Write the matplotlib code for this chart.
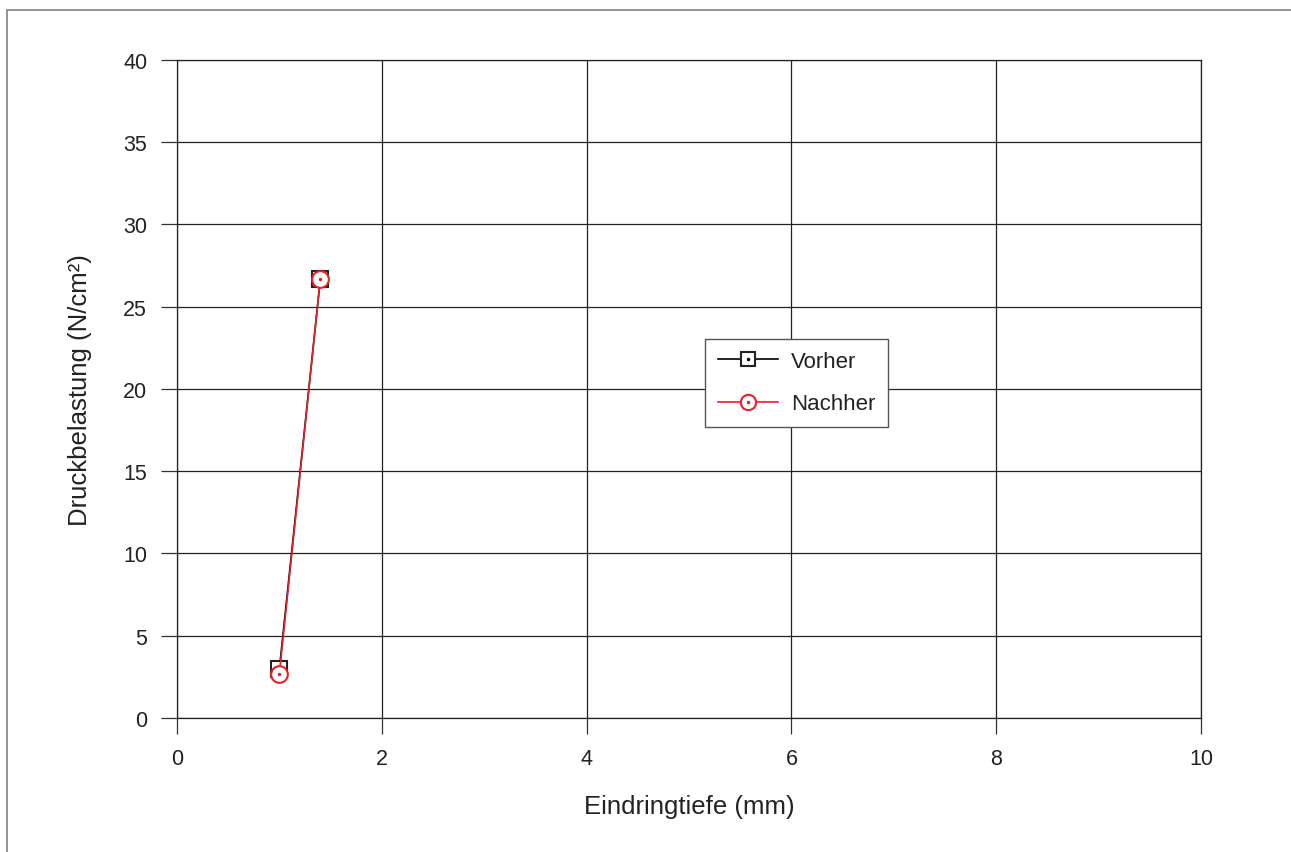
import matplotlib
matplotlib.use('Agg')
import matplotlib.pyplot as plt
from matplotlib.lines import Line2D
from matplotlib.patches import Rectangle

plt.rcParams['font.family'] = ['Liberation Sans', 'DejaVu Sans']

# Messwerte
x_vorher = [1.0, 1.4]
y_vorher = [3.0, 26.7]
x_nachher = [1.0, 1.4]
y_nachher = [2.7, 26.7]

xticks = [0, 2, 4, 6, 8, 10]
yticks = [0, 5, 10, 15, 20, 25, 30, 35, 40]

fig = plt.figure(figsize=(12.91, 8.53), dpi=100)
ax = fig.add_axes([0.1371, 0.1571, 0.7932, 0.7714])

# outer frame of the picture
fig.patches.append(Rectangle((7 / 1291, -0.1), 1.2, 1 - 11 / 853 + 0.1,
                             transform=fig.transFigure, fill=False,
                             edgecolor='#808080', linewidth=1.2))

ax.plot(x_vorher, y_vorher, color='black', lw=1.2, marker='s', ms=11,
        mfc='white', mec='#222222', mew=1.5, zorder=3)
ax.plot(x_vorher, y_vorher, ls='none', marker='.', ms=3, color='black', zorder=4)
ax.plot(x_nachher, y_nachher, color='#e8202a', lw=1.2, marker='o', ms=12,
        mfc='white', mec='#e8202a', mew=1.5, zorder=5)
ax.plot(x_nachher, y_nachher, ls='none', marker='.', ms=3, color='#e8202a', zorder=6)

ax.set_xlim(0, 10)
ax.set_ylim(0, 40)
ax.set_xticks(xticks)
ax.set_yticks(yticks)
ax.grid(True, color='#222222', lw=0.9)
for s in ax.spines.values():
    s.set_color('#222222')
    s.set_linewidth(0.9)
ax.tick_params(direction='out', length=11.5, width=0.9, color='#333333',
               labelsize=15.5, labelcolor='#222222', pad=10)

ax.set_xlabel('Eindringtiefe (mm)', fontsize=18.5, color='#222222', labelpad=18)
ax.set_ylabel('Druckbelastung (N/cm²)', fontsize=18.5, color='#222222', labelpad=22)

h1 = (Line2D([], [], color='black', lw=1.2, marker='s', ms=10, mfc='white',
             mec='#222222', mew=1.5),
      Line2D([], [], ls='none', marker='.', ms=3, color='black'))
h2 = (Line2D([], [], color='#e8202a', lw=1.2, marker='o', ms=11, mfc='white',
             mec='#e8202a', mew=1.5),
      Line2D([], [], ls='none', marker='.', ms=3, color='#e8202a'))
leg = ax.legend([h1, h2], ['Vorher', 'Nachher'], loc='upper left',
                bbox_to_anchor=(0.516, 0.576), borderaxespad=0, fontsize=16,
                fancybox=False, framealpha=1, edgecolor='#555555',
                handlelength=2.7, borderpad=0.55, labelspacing=0.95,
                handletextpad=0.6, labelcolor='#222222')
leg.get_frame().set_linewidth(1.0)
leg.set_zorder(10)

fig.savefig('out.png', dpi=100)
